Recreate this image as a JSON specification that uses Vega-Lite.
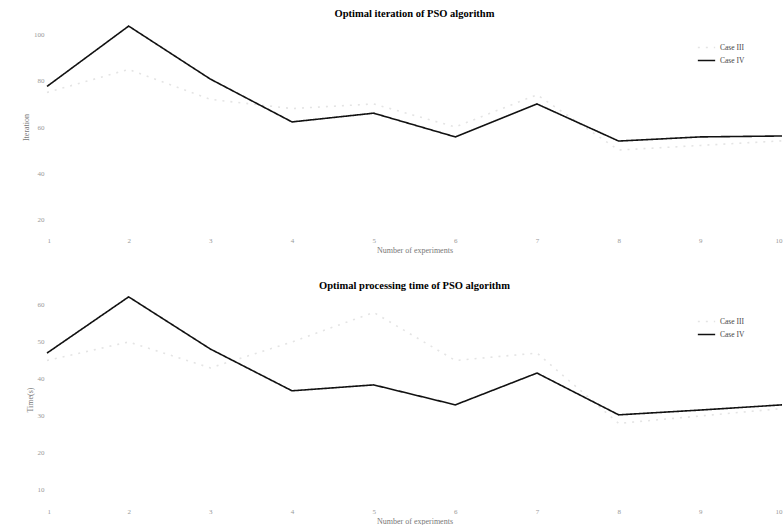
{
  "$schema": "https://vega.github.io/schema/vega-lite/v6.json",
  "background": "white",
  "padding": {"left": 22, "top": 8, "right": 0, "bottom": 0},
  "spacing": 27,
  "datasets": {
    "iter": [
      {"exp": 1, "case": "Case III", "value": 75}, {"exp": 2, "case": "Case III", "value": 85},
      {"exp": 3, "case": "Case III", "value": 72}, {"exp": 4, "case": "Case III", "value": 68},
      {"exp": 5, "case": "Case III", "value": 70}, {"exp": 6, "case": "Case III", "value": 60},
      {"exp": 7, "case": "Case III", "value": 74}, {"exp": 8, "case": "Case III", "value": 50},
      {"exp": 9, "case": "Case III", "value": 52}, {"exp": 10, "case": "Case III", "value": 54},
      {"exp": 1, "case": "Case IV", "value": 77.6}, {"exp": 2, "case": "Case IV", "value": 103.8},
      {"exp": 3, "case": "Case IV", "value": 80.8}, {"exp": 4, "case": "Case IV", "value": 62.2},
      {"exp": 5, "case": "Case IV", "value": 66.0}, {"exp": 6, "case": "Case IV", "value": 55.7},
      {"exp": 7, "case": "Case IV", "value": 70.0}, {"exp": 8, "case": "Case IV", "value": 53.9},
      {"exp": 9, "case": "Case IV", "value": 55.7}, {"exp": 10, "case": "Case IV", "value": 56.1}
    ],
    "time": [
      {"exp": 1, "case": "Case III", "value": 45}, {"exp": 2, "case": "Case III", "value": 50},
      {"exp": 3, "case": "Case III", "value": 43}, {"exp": 4, "case": "Case III", "value": 50},
      {"exp": 5, "case": "Case III", "value": 58}, {"exp": 6, "case": "Case III", "value": 45},
      {"exp": 7, "case": "Case III", "value": 47}, {"exp": 8, "case": "Case III", "value": 28},
      {"exp": 9, "case": "Case III", "value": 30}, {"exp": 10, "case": "Case III", "value": 32},
      {"exp": 1, "case": "Case IV", "value": 47.0}, {"exp": 2, "case": "Case IV", "value": 62.2},
      {"exp": 3, "case": "Case IV", "value": 48.1}, {"exp": 4, "case": "Case IV", "value": 36.8},
      {"exp": 5, "case": "Case IV", "value": 38.4}, {"exp": 6, "case": "Case IV", "value": 33.0},
      {"exp": 7, "case": "Case IV", "value": 41.6}, {"exp": 8, "case": "Case IV", "value": 30.3},
      {"exp": 9, "case": "Case IV", "value": 31.6}, {"exp": 10, "case": "Case IV", "value": 33.0}
    ]
  },
  "vconcat": [
    {
      "width": 735,
      "height": 212,
      "title": {"text": "Optimal iteration of PSO algorithm", "font": "Liberation Serif", "fontSize": 10.5, "fontWeight": "bold", "offset": 2, "anchor": "middle"},
      "data": {"name": "iter"},
      "mark": {"type": "line", "strokeWidth": 1.6},
      "encoding": {
        "x": {"field": "exp", "type": "quantitative", "title": "Number of experiments",
              "scale": {"domain": [1, 10], "nice": false, "zero": false},
              "axis": {"values": [1,2,3,4,5,6,7,8,9,10], "format": "d"}},
        "y": {"field": "value", "type": "quantitative", "title": "Iteration",
              "scale": {"domain": [14, 106], "nice": false, "zero": false},
              "axis": {"values": [20, 40, 60, 80, 100]}},
        "color": {"field": "case", "type": "nominal",
                  "scale": {"domain": ["Case III", "Case IV"], "range": ["#e4e4e4", "#111111"]},
                  "legend": {"title": null, "orient": "none", "legendX": 650, "legendY": 17}},
        "strokeDash": {"field": "case", "type": "nominal",
                  "scale": {"domain": ["Case III", "Case IV"], "range": [[2, 6], [1, 0]]},
                  "legend": null}
      }
    },
    {
      "width": 735,
      "height": 209,
      "title": {"text": "Optimal processing time of PSO algorithm", "font": "Liberation Serif", "fontSize": 10.5, "fontWeight": "bold", "offset": 2, "anchor": "middle"},
      "data": {"name": "time"},
      "mark": {"type": "line", "strokeWidth": 1.6},
      "encoding": {
        "x": {"field": "exp", "type": "quantitative", "title": "Number of experiments",
              "scale": {"domain": [1, 10], "nice": false, "zero": false},
              "axis": {"values": [1,2,3,4,5,6,7,8,9,10], "format": "d"}},
        "y": {"field": "value", "type": "quantitative", "title": "Time(s)",
              "scale": {"domain": [6.2, 62.7], "nice": false, "zero": false},
              "axis": {"values": [10, 20, 30, 40, 50, 60]}},
        "color": {"field": "case", "type": "nominal",
                  "scale": {"domain": ["Case III", "Case IV"], "range": ["#e4e4e4", "#111111"]},
                  "legend": {"title": null, "orient": "none", "legendX": 650, "legendY": 17}},
        "strokeDash": {"field": "case", "type": "nominal",
                  "scale": {"domain": ["Case III", "Case IV"], "range": [[2, 6], [1, 0]]},
                  "legend": null}
      }
    }
  ],
  "resolve": {"scale": {"color": "independent", "strokeDash": "independent"}, "legend": {"color": "independent"}},
  "config": {
    "view": {"stroke": null},
    "font": "Liberation Serif",
    "axis": {
      "domain": false, "grid": false, "ticks": false,
      "labelFont": "Liberation Serif", "labelFontSize": 7, "labelColor": "#999999",
      "titleFont": "Liberation Serif", "titleFontSize": 8, "titleFontWeight": "normal", "titleColor": "#777777",
      "labelPadding": 3, "titlePadding": 3
    },
    "legend": {
      "labelFont": "Liberation Serif", "labelFontSize": 7.5, "labelColor": "#444444",
      "symbolType": "stroke", "symbolSize": 300, "symbolStrokeWidth": 1.5, "rowPadding": -6, "padding": 0
    }
  }
}
